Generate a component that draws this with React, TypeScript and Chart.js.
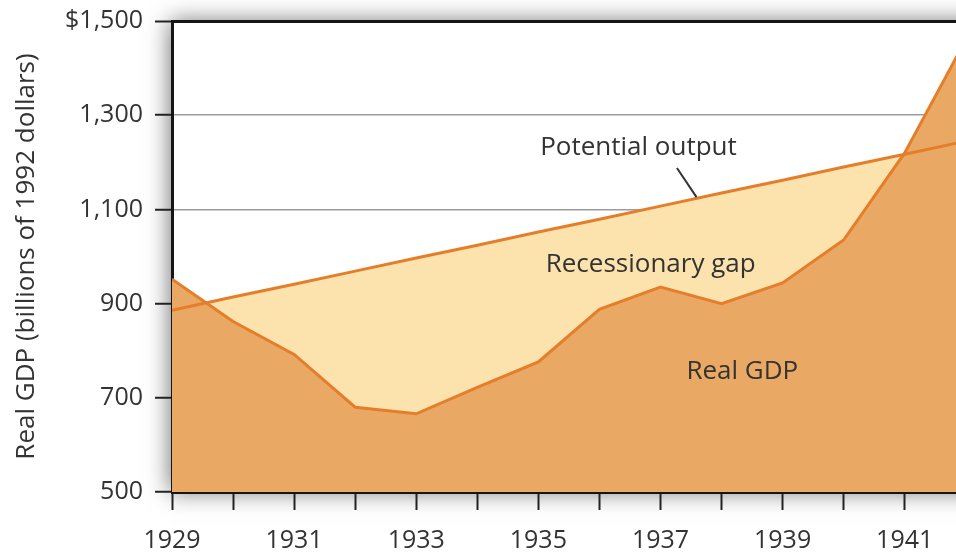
import React, { useEffect, useRef } from "react";
import { Chart, registerables } from "chart.js";

Chart.register(...registerables);

const years = [1929, 1930, 1931, 1932, 1933, 1934, 1935, 1936, 1937, 1938, 1939, 1940, 1941, 1942];
const realGDP = [952, 862, 792, 680, 666, 722, 776, 888, 935, 900, 944, 1035, 1220, 1460];
const potentialOutput = [886, 914, 941, 969, 997, 1024, 1052, 1079, 1107, 1135, 1162, 1190, 1217, 1245];
const yTickValues = [500, 700, 900, 1100, 1300, 1500];
const yAxisTitle = "Real GDP (billions of 1992 dollars)";

// annotation labels placed in data units
const labelTexts = ["Potential output", "Recessionary gap", "Real GDP"];
const labelYears = [1936.64, 1936.84, 1938.34];
const labelValues = [1215, 967, 740];
const leaderYears = [1937.27, 1937.59];
const leaderValues = [1188, 1126];

const FONT = "'Open Sans', 'Noto Sans', sans-serif";
const TEXT = "#333333";
const LINE = "#E57E2B";
const GDP_FILL = "#E9A964";
const GAP_FILL = "#FCE2AC";

const shadowPlugin = {
  id: "plotShadow",
  beforeDraw(chart: any) {
    const { ctx, chartArea } = chart;
    ctx.save();
    ctx.shadowColor = "rgba(0,0,0,0.55)";
    ctx.shadowBlur = 22;
    ctx.shadowOffsetX = -2;
    ctx.fillStyle = "#ffffff";
    ctx.fillRect(chartArea.left, chartArea.top, chartArea.right - chartArea.left + 40, chartArea.bottom - chartArea.top);
    ctx.restore();
  },
};

const labelsPlugin = {
  id: "gapLabels",
  afterDatasetsDraw(chart: any) {
    const { ctx } = chart;
    const xs = chart.scales.x;
    const ys = chart.scales.y;
    ctx.save();
    ctx.fillStyle = TEXT;
    ctx.font = `26px ${FONT}`;
    ctx.textAlign = "center";
    ctx.textBaseline = "alphabetic";
    labelTexts.forEach((t, i) => {
      ctx.fillText(t, xs.getPixelForValue(labelYears[i]), ys.getPixelForValue(labelValues[i]));
    });
    ctx.strokeStyle = "#333";
    ctx.lineWidth = 2;
    ctx.beginPath();
    ctx.moveTo(xs.getPixelForValue(leaderYears[0]), ys.getPixelForValue(leaderValues[0]));
    ctx.lineTo(xs.getPixelForValue(leaderYears[1]), ys.getPixelForValue(leaderValues[1]));
    ctx.stroke();
    ctx.restore();
  },
};

export default function App() {
  const ref = useRef<HTMLCanvasElement | null>(null);
  useEffect(() => {
    if (!ref.current) return;
    const chart = new Chart(ref.current, {
      type: "line",
      data: {
        datasets: [
          {
            label: "Potential output",
            data: years.map((x, i) => ({ x, y: potentialOutput[i] })),
            borderColor: LINE,
            borderWidth: 3,
            pointRadius: 0,
            tension: 0,
            fill: { target: 1, above: GAP_FILL, below: "rgba(0,0,0,0)" },
          },
          {
            label: "Real GDP",
            data: years.map((x, i) => ({ x, y: realGDP[i] })),
            borderColor: LINE,
            borderWidth: 3,
            pointRadius: 0,
            tension: 0,
            backgroundColor: GDP_FILL,
            fill: "start",
          },
        ],
      },
      options: {
        animation: false,
        responsive: false,
        maintainAspectRatio: false,
        layout: { padding: { top: 21, right: 0, left: 0, bottom: 0 } },
        plugins: {
          legend: { display: false },
          tooltip: { enabled: false },
          filler: { drawTime: "beforeDatasetsDraw" },
        },
        scales: {
          x: {
            type: "linear",
            min: 1929,
            max: 1941.84,
            afterFit: (s: any) => {
              s.height = 62;
              s.paddingLeft = 0;
              s.paddingRight = 0;
            },
            afterBuildTicks: (s: any) => {
              s.ticks = years.filter((y) => y <= 1941).map((v) => ({ value: v }));
            },
            ticks: {
              stepSize: 1,
              includeBounds: false,
              autoSkip: false,
              maxRotation: 0,
              padding: 16,
              color: TEXT,
              font: { family: FONT, size: 25 },
              callback: (v: any) => (Number(v) % 2 === 1 ? String(v) : ""),
            },
            grid: {
              drawOnChartArea: false,
              tickLength: 18,
              tickColor: "#222",
              tickWidth: 2,
            },
            border: { color: "#151515", width: 3 },
          },
          y: {
            min: 500,
            max: 1500,
            afterFit: (s: any) => {
              s.width = 172;
              s.paddingTop = 0;
              s.paddingBottom = 0;
            },
            afterBuildTicks: (s: any) => {
              s.ticks = yTickValues.map((v) => ({ value: v }));
            },
            ticks: {
              padding: 12,
              color: TEXT,
              font: { family: FONT, size: 25 },
              callback: (v: any) =>
                (Number(v) === 1500 ? "$" : "") + Number(v).toLocaleString("en-US"),
            },
            grid: {
              color: (c: any) => (c.tick && c.tick.value === 1500 ? "#151515" : "#9c9c9c"),
              lineWidth: (c: any) => (c.tick && c.tick.value === 1500 ? 3 : 1.5),
              tickLength: 17,
              tickColor: "#222",
              tickWidth: 2,
            },
            border: { color: "#151515", width: 3 },
            title: {
              display: true,
              text: yAxisTitle,
              color: TEXT,
              font: { family: FONT, size: 26 },
              padding: { top: 11, bottom: 0 },
            },
          },
        },
      },
      plugins: [shadowPlugin, labelsPlugin],
    });
    return () => chart.destroy();
  }, []);
  return (
    <div style={{ position: "fixed", left: 0, top: 0, width: 956, height: 554, background: "#fff" }}>
      <canvas ref={ref} width={956} height={554} style={{ display: "block" }} />
    </div>
  );
}
